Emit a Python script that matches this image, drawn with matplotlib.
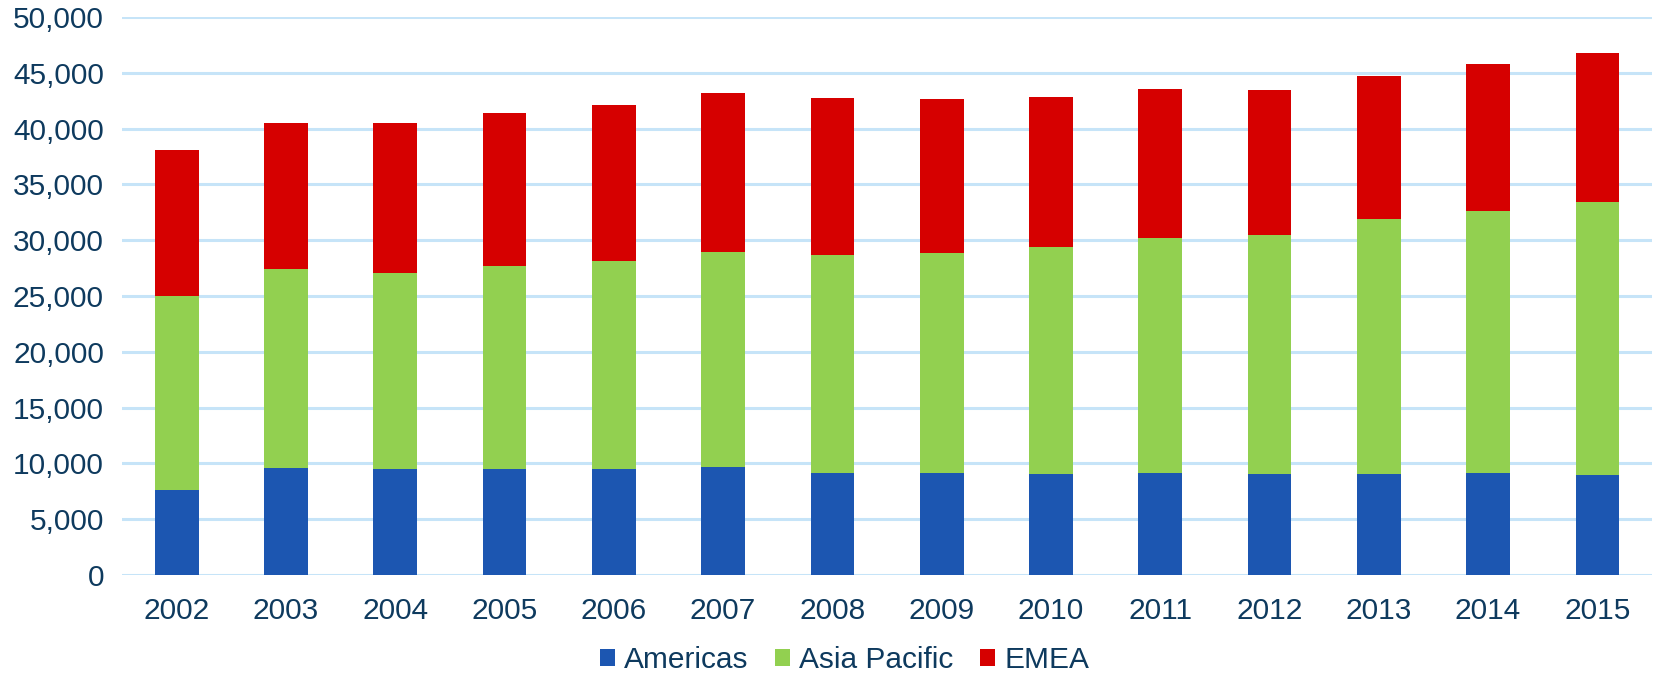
import numpy as np
from matplotlib import pyplot as plt
from matplotlib.ticker import FuncFormatter

years = ["2002", "2003", "2004", "2005", "2006", "2007", "2008",
         "2009", "2010", "2011", "2012", "2013", "2014", "2015"]

# read as stacked boundaries: americas top, asia pacific top, total
americas = [7640, 9560, 9470, 9530, 9530, 9640, 9170,
            9140, 9050, 9140, 9080, 9080, 9140, 8930]
asia_top = [24970, 27420, 27090, 27660, 28160, 28930, 28700,
            28850, 29420, 30200, 30440, 31870, 32640, 33400]
total = [38080, 40530, 40470, 41400, 42110, 43200, 42740,
         42620, 42860, 43520, 43430, 44740, 45760, 46770]

asia_pacific = [a - b for a, b in zip(asia_top, americas)]
emea = [t - a for t, a in zip(total, asia_top)]

text_color = "#0E3A5E"
grid_color = "#C6E4F8"
colors = {"Americas": "#1C56B1", "Asia Pacific": "#92D050", "EMEA": "#D60000"}


def main():
    plt.rcParams["font.family"] = ["Liberation Sans", "DejaVu Sans"]
    fig = plt.figure(figsize=(16.56, 6.78), dpi=100)
    ax = fig.add_axes([0.0737, 0.152, 0.9239, 0.823])

    x = np.arange(len(years))
    width = 0.4
    ax.bar(x, americas, width, color=colors["Americas"], label="Americas", zorder=3)
    ax.bar(x, asia_pacific, width, bottom=americas, color=colors["Asia Pacific"],
           label="Asia Pacific", zorder=3)
    ax.bar(x, emea, width, bottom=asia_top, color=colors["EMEA"], label="EMEA", zorder=3)

    ax.set_xlim(-0.5, len(years) - 0.5)
    ax.set_ylim(0, 50000)
    ax.set_yticks(np.arange(0, 50001, 5000))
    ax.yaxis.set_major_formatter(FuncFormatter(lambda v, p: f"{int(v):,}"))
    ax.set_xticks(x)
    ax.set_xticklabels(years)

    ax.grid(axis="y", color=grid_color, linewidth=2.2, zorder=0)
    for side in ["top", "right", "left", "bottom"]:
        ax.spines[side].set_visible(False)
    ax.tick_params(axis="both", length=0, labelsize=21.5, labelcolor=text_color)
    ax.tick_params(axis="y", pad=13)
    ax.tick_params(axis="x", pad=16)

    fig.legend(loc="lower center", bbox_to_anchor=(0.51, -0.034), ncol=3,
               frameon=False, fontsize=21.5, labelcolor=text_color,
               handlelength=0.5, handleheight=0.5, handletextpad=0.3,
               columnspacing=0.9)

    fig.savefig("out.png", dpi=100)


main()
